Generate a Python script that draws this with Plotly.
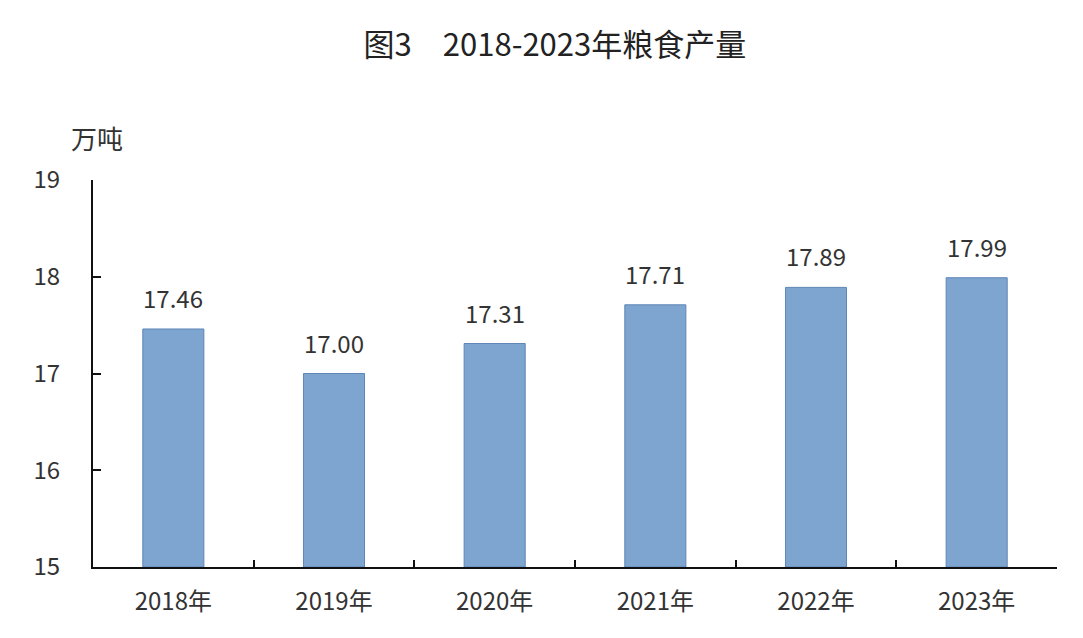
import plotly.graph_objects as go

years = ['2018年', '2019年', '2020年', '2021年', '2022年', '2023年']
output = [17.46, 17.00, 17.31, 17.71, 17.89, 17.99]
labels = ['17.46', '17.00', '17.31', '17.71', '17.89', '17.99']
yticks = [15, 16, 17, 18, 19]

FONT = 'Noto Sans CJK SC, Noto Sans, sans-serif'

fig = go.Figure()
fig.add_trace(go.Bar(
    x=years, y=[v - 15 for v in output], base=15,
    width=0.38,
    marker=dict(color='#7ea4d0', line=dict(color='#5f86b6', width=1)),
))

# value labels above each bar
for yr, v, lab in zip(years, output, labels):
    fig.add_annotation(x=yr, y=v, text=lab, showarrow=False,
                       yanchor='bottom', yshift=12,
                       font=dict(size=24, color='#333333', family=FONT))

fig.add_annotation(text='万吨', xref='paper', yref='paper', x=-0.025, y=1.111,
                   xanchor='left', yanchor='middle', showarrow=False,
                   font=dict(size=26, color='#333333', family=FONT))

fig.update_layout(
    width=1083, height=638,
    paper_bgcolor='white', plot_bgcolor='white',
    margin=dict(l=85, r=34, t=172, b=79),
    showlegend=False,
    title=dict(text='图3　2018-2023年粮食产量', x=0.505, xanchor='center',
               y=0.942, yanchor='middle',
               font=dict(size=31, color='#222222', family=FONT)),
)
fig.update_xaxes(
    type='category', showline=True, linecolor='#111111', linewidth=2,
    ticks='inside', ticklen=7, tickwidth=2, tickcolor='#111111',
    tickson='boundaries', showgrid=False, ticklabelstandoff=12,
    tickfont=dict(size=24, color='#333333', family=FONT),
)
fig.update_yaxes(
    range=[15, 19], tickvals=yticks, showline=True, linecolor='#111111',
    linewidth=2, ticks='inside', ticklen=8, tickwidth=2, tickcolor='#111111',
    showgrid=False, zeroline=False, ticklabelstandoff=26,
    tickfont=dict(size=24, color='#333333', family=FONT),
)

fig.write_html('out.html')
